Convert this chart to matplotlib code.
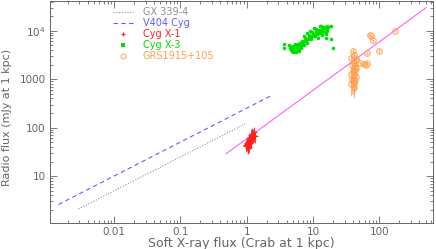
import numpy as np
import matplotlib
matplotlib.use("Agg")
import matplotlib.pyplot as plt
from matplotlib.lines import Line2D
from matplotlib.ticker import FixedLocator, FixedFormatter, LogLocator, NullFormatter

# GX 339-4 and V404 Cyg correlations (end points of the fitted power laws)
gx_x = [0.0029, 1.0]
gx_y = [2.1, 124]
v404_x = [0.00145, 2.47]
v404_y = [2.6, 476]
# linear correlation line
lin_x = [0.49, 510]
lin_y = [29, 30000]

# Cyg X-1
cx1_x = [1.00, 1.05, 1.10, 1.08, 1.15, 1.20, 1.02, 0.98, 1.12, 1.18, 1.25, 1.05,
         1.10, 1.22, 1.30, 1.15, 1.08, 1.03, 1.27, 1.20, 1.13, 1.35, 0.99, 1.17]
cx1_y = [45, 50, 55, 40, 60, 65, 48, 42, 58, 52, 70, 38,
         62, 75, 68, 57, 53, 47, 80, 61, 49, 66, 44, 72]
cx1_err = [12, 15, 14, 10, 20, 18, 12, 10, 16, 14, 22, 9,
           17, 25, 18, 14, 13, 12, 22, 16, 12, 18, 11, 20]

# Cyg X-3
cx3_x = [4.5, 4.8, 5.0, 5.2, 5.5, 5.3, 5.8, 6.0, 6.2, 5.6, 4.9, 5.1, 5.9, 6.5, 6.8,
         7.0, 6.3, 5.4, 4.7, 5.7, 6.1, 6.6, 7.2, 7.5, 7.8, 8.0, 6.9, 6.4, 5.0, 5.5,
         4.4, 4.6, 5.2, 5.8, 6.7,
         8.3, 8.6, 9.0, 9.5, 10.0, 10.5, 11.0, 11.5, 12.0, 12.5, 13.0, 13.5, 14.0,
         14.5, 15.0, 16.0, 16.5, 17.0, 12.8, 11.2, 9.8, 8.8, 10.8, 12.2, 14.8, 7.6,
         9.2, 16.2, 13.8, 9.0, 10.2, 8.0, 11.8, 7.2, 13.2, 15.8,
         3.6, 3.7, 19.0, 20.0, 18.5, 15.5]
cx3_y = [4500, 4200, 4800, 4000, 4400, 5200, 4700, 4100, 5000, 3800, 3900, 4300,
         5400, 4600, 5300, 5800, 5600, 4900, 4600, 4200, 3900, 4400, 5000, 6000,
         6300, 5700, 6200, 5100, 3700, 3600, 5000, 4000, 4600, 5100, 4800,
         6800, 7400, 7000, 7800, 8500, 8000, 9200, 8700, 9800, 10500, 9500, 11000,
         10200, 12000, 11200, 12500, 10800, 11800, 12800, 10800, 9400, 8300, 7600,
         8800, 9300, 7200, 6600, 9800, 8300, 9900, 11500, 8800, 7000, 7900, 12600, 8600,
         5400, 4300, 6800, 4500, 12500, 7000]

# GRS 1915+105
grs_x = [40, 42, 38, 44, 41, 39, 43, 45, 40, 42, 37, 41, 44, 39, 43, 40, 42, 38,
         41, 52, 58, 65, 62, 72, 75, 79, 100, 175, 66, 45, 43]
grs_y = [3800, 3200, 2800, 2500, 2200, 2000, 1800, 1600, 1500, 1400, 1300, 1200,
         1100, 1000, 950, 900, 850, 800, 700, 2200, 2100, 2200, 2000, 8000, 7600,
         6300, 3900, 10000, 3400, 2600, 1700]
grs_yerr = [500, 600, 700, 500, 600, 700, 600, 500, 700, 600, 600, 500,
            500, 500, 400, 400, 400, 350, 300, 200, 200, 200, 200, 600, 600,
            500, 500, 500, 300, 400, 400]
grs_xerr = [2, 2, 2, 2, 2, 2, 2, 2, 2, 2, 2, 2, 2, 2, 2, 2, 2, 2, 2,
            3, 3, 3, 3, 3, 3, 3, 4, 4, 3, 2, 2]

grey = "#666666"
c_gx = "#909090"
c_v404 = "#6060ff"
c_cx1 = "#ff2020"
c_cx3 = "#00e000"
c_grs = "#ffa050"
c_lin = "#ff60ff"

fig = plt.figure(figsize=(4.36, 2.49), dpi=100)
ax = fig.add_axes([50 / 436, 1 - 223 / 249, 383 / 436, 222 / 249])
ax.set_xscale("log")
ax.set_yscale("log")

ax.plot(gx_x, gx_y, ls=(0, (1, 1.5)), lw=0.8, color=c_gx)
ax.plot(v404_x, v404_y, ls=(0, (4, 3)), lw=0.8, color=c_v404)
ax.plot(lin_x, lin_y, lw=0.8, color=c_lin)

ax.errorbar(cx1_x, cx1_y, yerr=cx1_err, xerr=0.03, fmt="+", ms=4, mew=0.8,
            color=c_cx1, ecolor=c_cx1, elinewidth=0.6)
ax.plot(cx3_x, cx3_y, "o", ms=2.6, mew=0, color=c_cx3, ls="none")
ax.errorbar(grs_x, grs_y, yerr=grs_yerr, xerr=grs_xerr, fmt="o", ms=4,
            mfc="none", mec=c_grs, mew=0.7, ecolor=c_grs, elinewidth=0.5)

ax.set_xlim(0.00108, 645)
ax.set_ylim(1.08, 41000)

ax.xaxis.set_major_locator(FixedLocator([0.001, 0.01, 0.1, 1, 10, 100]))
ax.xaxis.set_major_formatter(FixedFormatter(["", "0.01", "0.1", "1", "10", "100"]))
ax.yaxis.set_major_locator(FixedLocator([1, 10, 100, 1000, 10000]))
ax.yaxis.set_major_formatter(FixedFormatter(["", "10", "100", "1000", r"$10^4$"]))
for a in (ax.xaxis, ax.yaxis):
    a.set_minor_locator(LogLocator(base=10, subs=np.arange(2, 10), numticks=20))
    a.set_minor_formatter(NullFormatter())

ax.tick_params(which="both", direction="in", top=True, right=True,
               color=grey, labelcolor=grey, labelsize=7.5, width=0.6)
ax.tick_params(which="major", length=5, pad=3)
ax.tick_params(which="minor", length=2.5)
for s in ax.spines.values():
    s.set_color(grey)
    s.set_linewidth(0.7)

ax.set_xlabel("Soft X-ray flux (Crab at 1 kpc)", fontsize=9, color=grey, labelpad=0)
ax.set_ylabel("Radio flux (mJy at 1 kpc)", fontsize=8, color=grey)
ax.yaxis.set_label_coords(-0.10, 0.475)

handles = [
    Line2D([], [], ls=(0, (1, 1.5)), lw=0.8, color=c_gx),
    Line2D([], [], ls=(0, (4, 3)), lw=0.8, color=c_v404),
    Line2D([], [], ls="none", marker="+", ms=3.5, mew=0.8, color=c_cx1),
    Line2D([], [], ls="none", marker="s", ms=2.2, mew=0, color=c_cx3),
    Line2D([], [], ls="none", marker="o", ms=3.5, mfc="none", mew=0.7, mec=c_grs),
]
labels = ["GX 339-4", "V404 Cyg", "Cyg X-1", "Cyg X-3", "GRS1915+105"]
leg = ax.legend(handles, labels, loc="upper left", bbox_to_anchor=(0.154, 0.99),
                frameon=False, fontsize=7, handlelength=2.05, handletextpad=1.0,
                labelspacing=0.1, borderaxespad=0)
for t, c in zip(leg.get_texts(), [c_gx, c_v404, c_cx1, c_cx3, c_grs]):
    t.set_color(c)

fig.savefig("out.png", dpi=100)
